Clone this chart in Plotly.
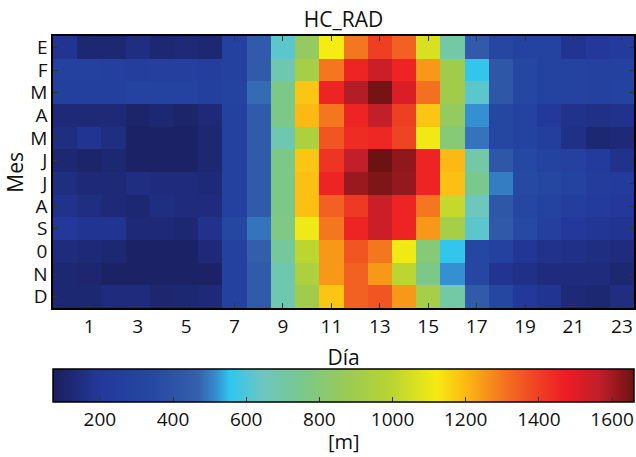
import plotly.graph_objects as go

hours = list(range(24))
month_labels = ["E", "F", "M", "A", "M", "J", "J", "A", "S", "0", "N", "D"]
x_tick_vals = [1, 3, 5, 7, 9, 11, 13, 15, 17, 19, 21, 23]
cbar_ticks = [200, 400, 600, 800, 1000, 1200, 1400, 1600]

row_E = [180, 120, 120, 150, 120, 130, 120, 280, 440, 620, 850, 1120, 1300, 1400, 1340, 1060, 700, 440, 320, 300, 300, 180, 200, 230]
row_F = [280, 280, 260, 250, 260, 260, 250, 280, 440, 680, 920, 1300, 1460, 1540, 1460, 1250, 900, 560, 420, 330, 300, 290, 280, 280]
row_M1 = [270, 270, 270, 290, 290, 290, 270, 290, 480, 760, 1180, 1460, 1580, 1650, 1510, 1310, 900, 620, 420, 330, 300, 290, 280, 290]
row_A1 = [130, 130, 130, 100, 120, 100, 130, 280, 440, 760, 1200, 1300, 1460, 1560, 1400, 1180, 850, 520, 330, 290, 200, 170, 160, 170]
row_M2 = [150, 180, 150, 90, 90, 90, 120, 280, 440, 680, 950, 1360, 1440, 1450, 1390, 1110, 800, 490, 320, 300, 250, 160, 120, 130]
row_J1 = [120, 100, 120, 90, 90, 90, 120, 280, 440, 760, 1180, 1420, 1560, 1660, 1620, 1460, 1200, 700, 420, 340, 290, 280, 230, 170]
row_J2 = [150, 130, 130, 150, 140, 140, 130, 280, 440, 760, 1190, 1460, 1610, 1640, 1615, 1460, 1190, 750, 500, 350, 330, 290, 240, 230]
row_A2 = [170, 150, 130, 120, 150, 140, 140, 280, 440, 760, 1190, 1340, 1410, 1540, 1460, 1300, 1020, 650, 420, 330, 290, 250, 230, 200]
row_S = [200, 180, 180, 130, 130, 120, 170, 320, 490, 770, 1110, 1300, 1460, 1540, 1460, 1250, 920, 620, 430, 350, 260, 200, 190, 180]
row_O = [140, 130, 120, 90, 90, 90, 130, 280, 460, 720, 1000, 1250, 1360, 1300, 1110, 800, 560, 320, 280, 190, 170, 160, 150, 140]
row_N = [120, 110, 90, 90, 90, 90, 90, 280, 440, 680, 950, 1250, 1340, 1250, 1000, 760, 520, 320, 180, 160, 140, 140, 140, 120]
row_D = [120, 120, 140, 140, 110, 120, 130, 280, 440, 680, 900, 1180, 1340, 1360, 1250, 920, 700, 440, 330, 200, 180, 130, 120, 150]

z = [row_E, row_F, row_M1, row_A1, row_M2, row_J1, row_J2, row_A2, row_S, row_O, row_N, row_D]

colorscale = [
    [0.00, "#1a1e5c"],
    [0.08, "#23389a"],
    [0.17, "#2548a2"],
    [0.25, "#3560ac"],
    [0.282, "#3590d2"],
    [0.304, "#2ec6f0"],
    [0.36, "#6cc7c0"],
    [0.424, "#78c890"],
    [0.51, "#9ccb50"],
    [0.58, "#b8d433"],
    [0.66, "#f6eb13"],
    [0.71, "#fdb913"],
    [0.78, "#f37021"],
    [0.837, "#ef3e23"],
    [0.883, "#ed1c24"],
    [0.94, "#c01f2a"],
    [1.00, "#6d1212"],
]

font_family = "Open Sans"
tick_font = dict(family=font_family, size=19, color="#111")
title_font = dict(family=font_family, size=21, color="#111")

fig = go.Figure(
    go.Heatmap(
        z=z,
        x=hours,
        y=list(range(len(month_labels))),
        zmin=72,
        zmax=1660,
        colorscale=colorscale,
        colorbar=dict(
            orientation="h",
            x=0.5,
            xanchor="center",
            y=-0.2243,
            yanchor="top",
            len=1.0,
            lenmode="fraction",
            thickness=33,
            thicknessmode="pixels",
            xpad=0,
            ypad=0,
            outlinecolor="black",
            outlinewidth=1.5,
            tickvals=cbar_ticks,
            ticks="inside",
            ticklen=5,
            tickcolor="#333",
            tickfont=tick_font,
        ),
    )
)

fig.update_layout(
    template="none",
    width=636,
    height=457,
    margin=dict(l=53, r=2, t=36, b=149, autoexpand=False),
    paper_bgcolor="white",
    plot_bgcolor="white",
    title=dict(text="HC_RAD", xref="paper", x=0.5, xanchor="center", y=0.956, yanchor="middle",
               font=title_font),
    xaxis=dict(
        range=[-0.5, 23.5],
        tickvals=x_tick_vals,
        ticks="inside",
        ticklen=5,
        tickcolor="#333",
        showline=True,
        linecolor="black",
        linewidth=1.5,
        mirror="ticks",
        showgrid=False,
        zeroline=False,
        automargin=False,
        tickfont=tick_font,
        title=dict(text="Día", standoff=13, font=title_font),
    ),
    yaxis=dict(
        range=[11.5, -0.5],
        tickvals=list(range(len(month_labels))),
        ticktext=month_labels,
        ticks="inside",
        ticklen=5,
        tickcolor="#333",
        showline=True,
        linecolor="black",
        linewidth=1.5,
        mirror="ticks",
        showgrid=False,
        zeroline=False,
        automargin=False,
        tickfont=tick_font,
    ),
    annotations=[
        dict(text="Mes", xref="paper", yref="paper", x=-0.066, y=0.5, xanchor="center", yanchor="middle",
             textangle=-90, showarrow=False, font=title_font),
        dict(text="[m]", xref="paper", yref="paper", x=0.5, y=-0.4926, xanchor="center", yanchor="middle",
             showarrow=False, font=dict(family=font_family, size=20, color="#111")),
    ],
)

fig.write_html(
    "out.html",
    config={"displayModeBar": False},
    post_script="document.body.style.margin='0';document.body.style.overflow='hidden';",
)
